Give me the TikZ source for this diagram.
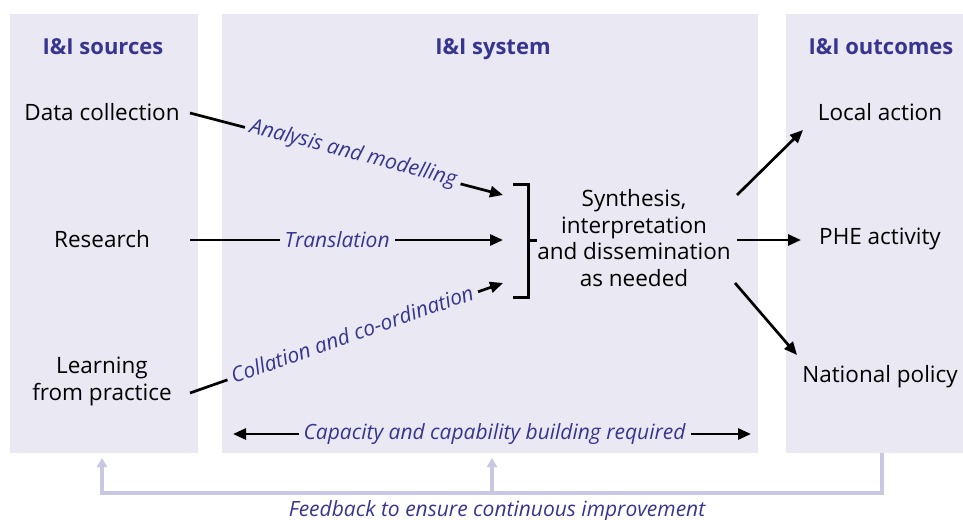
\documentclass[tikz,border=0pt]{standalone}
\usepackage{fontspec}
\setmainfont{Open Sans}
\usetikzlibrary{arrows.meta}
\definecolor{panel}{HTML}{E9E8F3}
\definecolor{ibl}{HTML}{38358F}
\definecolor{fb}{HTML}{C8C8E2}
\begin{document}
\begin{tikzpicture}[x=1pt,y=-1pt,
  head/.style={font=\fontsize{22}{26}\selectfont\bfseries, text=ibl, inner sep=0pt, anchor=base},
  txt/.style={font=\fontsize{22.5}{26.5}\selectfont, align=center, inner sep=0pt, anchor=base},
  lab/.style={font=\fontsize{21}{24}\selectfont\itshape, text=ibl, fill=panel, inner xsep=5pt, inner ysep=1pt},
  con/.style={line width=2.7pt, -{Triangle[length=13pt,width=11pt]}},
  dbl/.style={line width=2.7pt, {Triangle[length=13pt,width=11pt]}-{Triangle[length=13pt,width=11pt]}},
  fbline/.style={line width=3.5pt, draw=fb},
  fbarrow/.style={fbline, -{Triangle[length=9pt,width=10pt]}},
  brk/.style={line width=3pt}]
\useasboundingbox (0,0) rectangle (963,519);
% panels
\fill[panel] (10,14) rectangle (198,453);
\fill[panel] (222,14) rectangle (758,453);
\fill[panel] (786,14) rectangle (963,453);
% headings
\node[head] (hs) at (103,55) {I\&I sources};
\node[head] (hy) at (493,55) {I\&I system};
\node[head] (ho) at (881,55) {I\&I outcomes};
% sources
\node[txt] (dc) at (102,120) {Data collection};
\node[txt] (rs) at (102,247) {Research};
\node[txt] (lp) at (102,400) {Learning\\from practice};
% system
\node[txt] (syn) at (634,286) {Synthesis,\\interpretation\\and dissemination\\as needed};
% outcomes
\node[txt] (la) at (880,120) {Local action};
\node[txt] (phe) at (880,244) {PHE activity};
\node[txt] (np) at (880,382) {National policy};
% coordinates
\coordinate (dcR) at (190,113);
\coordinate (rsR) at (190,240);
\coordinate (lpR) at (190,393);
\coordinate (b1) at (503,195);
\coordinate (b2) at (503,240);
\coordinate (b3) at (503,283);
\coordinate (brT) at (513,184);
\coordinate (brTR) at (528,184);
\coordinate (brBR) at (528,297);
\coordinate (brB) at (513,297);
\coordinate (brM) at (528,240);
\coordinate (brTick) at (537,240);
\coordinate (s1) at (737,195);
\coordinate (s2) at (737,240);
\coordinate (s3) at (735,283);
\coordinate (t1) at (803,130);
\coordinate (t2) at (801,240);
\coordinate (t3) at (797,355);
\coordinate (cL) at (233,434);
\coordinate (cR) at (751,434);
\coordinate (f0) at (882,453);
\coordinate (f1) at (882,493);
\coordinate (f2) at (102,493);
\coordinate (f3) at (102,458);
\coordinate (m1) at (492,493);
\coordinate (m2) at (492,458);
% inputs
\draw[con] (dcR) -- node[lab, sloped, pos=0.52, yshift=2pt] (an) {Analysis and modelling} (b1);
\draw[con] (rsR) -- node[lab, pos=0.47] (tr) {Translation} (b2);
\draw[con] (lpR) -- node[lab, sloped, pos=0.52, yshift=2pt] (co) {Collation and co-ordination} (b3);
% bracket
\draw[brk] (brT) -- (brTR) -- (brBR) -- (brB);
\draw[brk] (brM) -- (brTick);
% outputs
\draw[con] (s1) -- (t1);
\draw[con] (s2) -- (t2);
\draw[con] (s3) -- (t3);
% capacity
\draw[dbl] (cL) -- node[lab, pos=0.505] (cap) {Capacity and capability building required} (cR);
% feedback
\draw[fbarrow] (f0) -- (f1) -- (f2) -- (f3);
\draw[fbarrow] (m1) -- (m2);
\node[font=\fontsize{21}{24}\selectfont\itshape, text=ibl, anchor=base, inner sep=0pt] (fbl) at (497,516) {Feedback to ensure continuous improvement};
\end{tikzpicture}
\end{document}
